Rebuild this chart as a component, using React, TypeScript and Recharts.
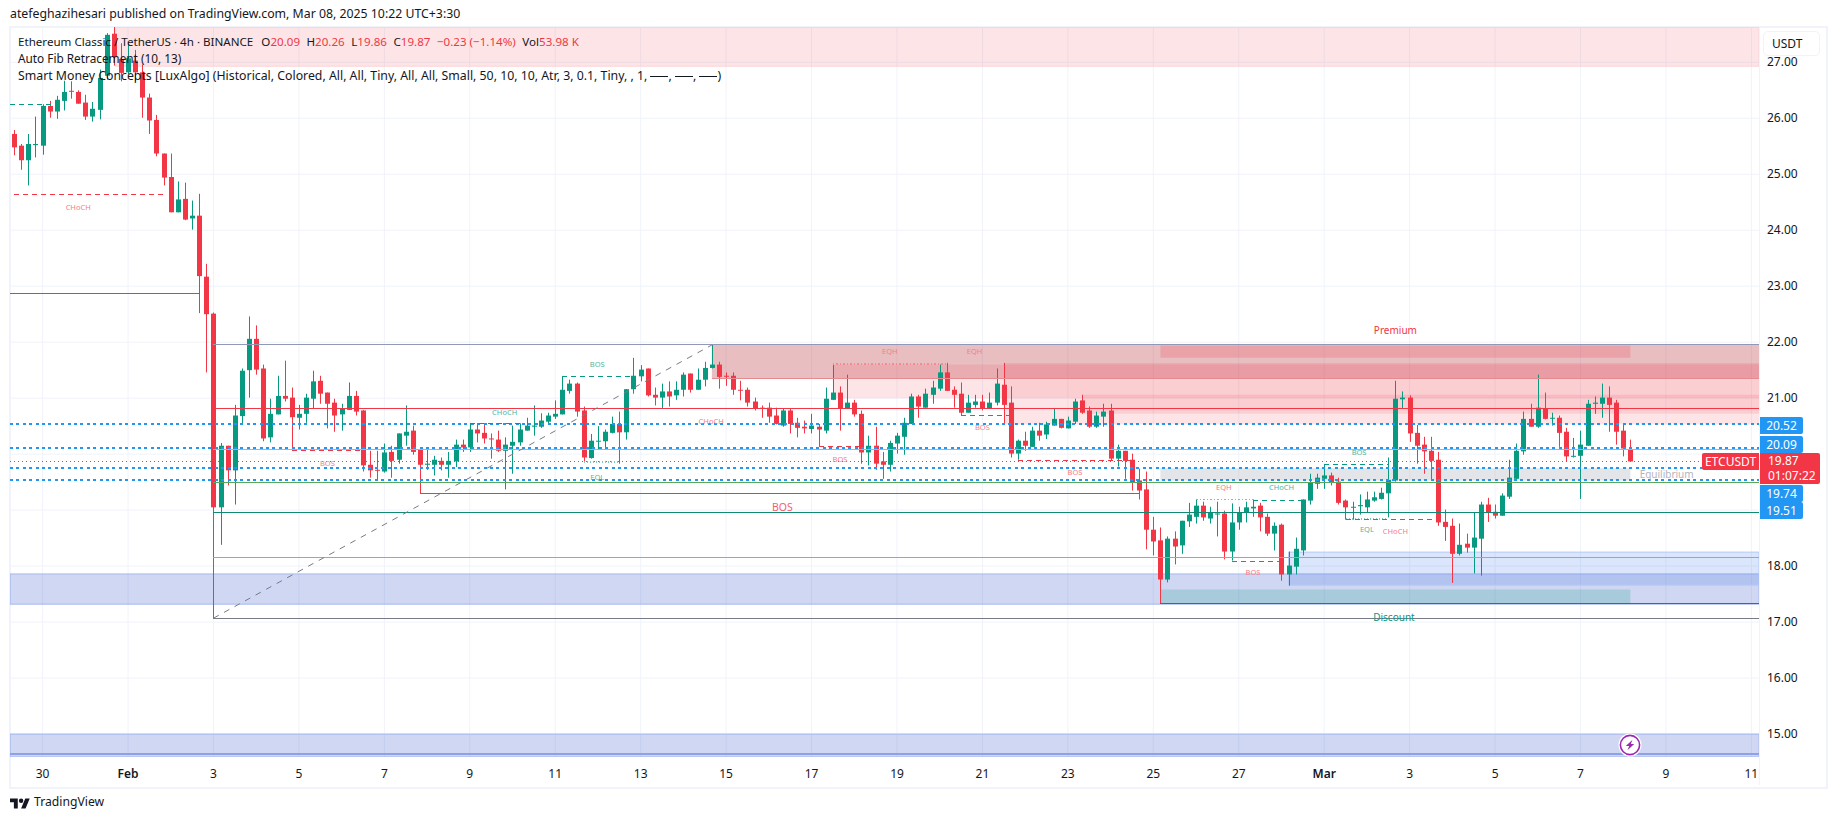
import React from 'react';
import {
  ComposedChart,
  Bar,
  XAxis,
  YAxis,
  CartesianGrid,
  ReferenceArea,
  ReferenceLine,
  ReferenceDot,
} from 'recharts';

// 4h candles, first one sits 4 bars before the Jan 30 gridline
const FIRST_INDEX = -4;

const opens = [
  25.72, 25.51, 25.25, 25.52,
  25.51, 26.22, 26.12, 26.31, 26.49, 26.47, 26.28, 26.03, 26.15, 26.76,
  27.51, 27.06, 26.82, 27.03, 26.82, 26.37, 25.97, 25.37, 24.95, 24.32,
  24.56, 24.21, 24.26, 23.17, 22.51, 19.05, 20.15, 19.71, 20.68, 21.50,
  22.06, 21.53, 20.30, 20.71, 21.04, 21.01, 20.65, 20.72, 20.99, 21.31,
  21.10, 20.92, 20.71, 20.79, 21.04, 20.78, 19.81, 19.72, 19.69, 20.04,
  19.90, 20.33, 20.42, 20.08, 19.81, 19.81, 19.88, 19.81, 19.87, 20.17,
  20.12, 20.44, 20.38, 20.28, 20.26, 20.06, 20.15, 20.21, 20.42, 20.49,
  20.49, 20.58, 20.67, 20.71, 21.13, 21.26, 20.78, 19.93, 20.23, 20.23,
  20.38, 20.54, 20.39, 21.16, 21.39, 21.53, 21.06, 21.01, 21.12, 21.05,
  21.15, 21.44, 21.15, 21.33, 21.54, 21.60, 21.40, 21.40, 21.15, 21.15,
  20.94, 20.83, 20.83, 20.69, 20.51, 20.78, 20.56, 20.49, 20.45, 20.49,
  20.42, 20.97, 21.10, 20.81, 20.92, 20.72, 20.03, 20.15, 19.87, 19.81,
  20.19, 20.31, 20.54, 21.03, 20.83, 21.06, 21.17, 21.46, 21.15, 21.08,
  20.74, 20.88, 20.94, 20.81, 20.92, 21.24, 20.92, 20.01, 20.24, 20.13,
  20.42, 20.35, 20.51, 20.63, 20.46, 20.58, 20.96, 20.78, 20.49, 20.67,
  20.78, 19.92, 20.06, 19.90, 19.53, 19.37, 18.65, 18.46, 17.76, 18.49,
  18.37, 18.80, 18.88, 19.08, 18.85, 18.93, 18.94, 18.26, 18.78, 18.96,
  19.03, 19.08, 18.88, 18.58, 18.74, 17.85, 17.99, 18.28, 19.17, 19.47,
  19.56, 19.62, 19.51, 19.17, 19.05, 19.07, 19.05, 19.17, 19.20, 19.30,
  19.53, 20.98, 21.01, 20.38, 20.17, 20.06, 19.90, 18.79, 18.72, 18.22,
  18.40, 18.33, 18.49, 19.10, 18.97, 18.90, 19.24, 19.56, 20.05, 20.63,
  20.49, 20.81, 20.64, 20.65, 20.40, 19.96, 19.97, 20.15, 20.90, 20.90,
  21.01, 20.92, 20.42, 20.09,
];

const highs = [
  25.79, 25.54, 25.72, 26.03,
  26.25, 26.31, 26.40, 26.67, 26.66, 26.50, 26.42, 26.29, 26.87, 27.52,
  27.63, 27.34, 27.34, 27.22, 26.96, 26.44, 26.06, 25.37, 25.37, 24.87,
  24.85, 24.53, 24.65, 23.40, 22.53, 20.20, 20.15, 20.88, 21.53, 22.46,
  22.30, 21.60, 20.99, 21.40, 21.67, 21.19, 20.88, 21.08, 21.49, 21.40,
  21.10, 20.99, 20.90, 21.28, 21.13, 20.79, 20.06, 20.06, 20.19, 20.15,
  20.37, 20.87, 20.51, 20.08, 20.08, 19.97, 19.94, 20.04, 20.26, 20.26,
  20.55, 20.53, 20.53, 20.37, 20.42, 20.30, 20.51, 20.55, 20.65, 20.87,
  20.73, 20.74, 20.96, 21.38, 21.33, 21.28, 20.85, 20.36, 20.50, 20.44,
  20.67, 20.76, 21.16, 21.72, 21.59, 21.53, 21.19, 21.26, 21.30, 21.30,
  21.46, 21.44, 21.53, 21.65, 21.95, 21.65, 21.46, 21.46, 21.31, 21.19,
  21.01, 20.87, 20.92, 20.83, 20.81, 20.81, 20.65, 20.60, 20.72, 20.54,
  21.19, 21.60, 21.21, 21.42, 20.97, 20.78, 20.33, 20.49, 20.04, 20.24,
  20.38, 20.65, 21.08, 21.06, 21.17, 21.31, 21.60, 21.63, 21.21, 21.28,
  21.06, 21.06, 21.06, 21.10, 21.53, 21.63, 21.21, 20.26, 20.40, 20.49,
  20.56, 20.58, 20.81, 20.63, 20.67, 20.99, 21.06, 20.85, 20.76, 20.90,
  20.90, 20.17, 20.06, 20.01, 19.74, 19.69, 18.88, 18.69, 18.53, 18.62,
  18.81, 19.13, 19.20, 19.15, 19.06, 19.15, 18.99, 19.12, 19.06, 19.15,
  19.19, 19.13, 18.94, 18.78, 18.76, 18.26, 18.51, 19.19, 19.65, 19.65,
  19.81, 19.67, 19.58, 19.19, 19.15, 19.28, 19.33, 19.33, 19.40, 19.94,
  21.31, 21.12, 21.05, 20.52, 20.31, 20.31, 20.04, 19.01, 18.85, 18.76,
  18.58, 18.95, 19.15, 19.22, 19.10, 19.30, 19.90, 20.19, 20.76, 20.90,
  21.42, 21.10, 20.74, 20.69, 20.47, 20.29, 20.42, 20.97, 21.03, 21.26,
  21.21, 20.97, 20.54, 20.26,
];

const lows = [
  25.34, 25.08, 24.80, 25.30,
  25.35, 26.01, 25.99, 26.14, 26.35, 26.26, 25.97, 25.94, 25.98, 26.69,
  26.94, 26.66, 26.79, 26.66, 26.01, 25.72, 25.32, 24.80, 24.32, 24.32,
  24.18, 24.01, 22.52, 21.46, 17.07, 18.38, 19.44, 19.10, 20.53, 21.01,
  21.42, 20.23, 20.21, 20.71, 20.94, 20.06, 20.44, 20.56, 20.81, 20.90,
  20.46, 20.40, 20.42, 20.79, 20.69, 19.69, 19.58, 19.53, 19.67, 19.58,
  19.83, 20.15, 19.99, 19.29, 19.72, 19.62, 19.71, 19.58, 19.77, 20.04,
  20.04, 20.21, 20.19, 19.92, 20.04, 19.37, 19.65, 20.15, 20.42, 20.33,
  20.47, 20.54, 20.63, 20.71, 21.08, 20.67, 19.87, 19.92, 20.08, 20.11,
  20.37, 19.83, 20.26, 21.08, 21.30, 21.03, 20.87, 20.81, 20.85, 20.97,
  21.03, 21.10, 21.15, 21.21, 21.53, 21.17, 21.22, 21.06, 20.96, 20.85,
  20.78, 20.65, 20.56, 20.53, 20.49, 20.37, 20.30, 20.37, 20.37, 20.13,
  20.37, 20.97, 20.42, 20.81, 20.67, 19.83, 19.80, 19.72, 19.56, 19.69,
  20.01, 19.99, 20.54, 20.65, 20.83, 20.90, 21.13, 21.13, 20.83, 20.69,
  20.74, 20.83, 20.78, 20.81, 20.87, 20.53, 19.94, 19.90, 20.06, 20.13,
  20.24, 20.27, 20.51, 20.46, 20.46, 20.54, 20.72, 20.47, 20.47, 20.49,
  19.88, 19.78, 19.56, 19.35, 19.19, 18.30, 18.19, 17.34, 17.71, 18.03,
  18.22, 18.70, 18.76, 18.81, 18.76, 18.53, 18.12, 18.10, 18.65, 18.78,
  18.88, 18.62, 18.54, 18.28, 17.74, 17.65, 17.85, 18.19, 19.10, 19.38,
  19.38, 19.44, 19.10, 18.83, 18.83, 18.92, 18.95, 19.15, 19.19, 18.87,
  19.51, 20.81, 20.22, 19.83, 19.65, 19.54, 18.72, 18.45, 17.70, 18.19,
  18.24, 17.87, 17.83, 18.79, 18.85, 18.90, 19.20, 19.54, 19.99, 20.49,
  20.47, 20.62, 20.51, 20.13, 19.87, 19.94, 19.20, 20.15, 20.72, 20.65,
  20.40, 20.17, 19.96, 19.86,
];

const closes = [
  25.48, 25.25, 25.54, 25.54,
  26.22, 26.12, 26.33, 26.47, 26.48, 26.26, 26.03, 26.17, 26.72, 27.49,
  27.10, 26.81, 27.07, 26.82, 26.37, 25.96, 25.37, 24.94, 24.32, 24.55,
  24.19, 24.26, 23.18, 22.50, 19.05, 20.15, 19.71, 20.69, 21.49, 22.06,
  21.51, 20.28, 20.72, 21.04, 20.99, 20.66, 20.72, 21.01, 21.30, 21.08,
  20.90, 20.69, 20.81, 21.04, 20.76, 19.80, 19.71, 19.71, 20.03, 19.88,
  20.37, 20.40, 20.04, 19.81, 19.83, 19.90, 19.81, 19.88, 20.17, 20.12,
  20.44, 20.37, 20.28, 20.27, 20.06, 20.17, 20.22, 20.44, 20.51, 20.51,
  20.60, 20.69, 20.72, 21.15, 21.26, 20.76, 19.94, 20.24, 20.24, 20.40,
  20.54, 20.39, 21.16, 21.40, 21.51, 21.05, 21.01, 21.12, 21.03, 21.15,
  21.42, 21.15, 21.33, 21.54, 21.60, 21.38, 21.39, 21.15, 21.14, 20.92,
  20.81, 20.82, 20.67, 20.54, 20.78, 20.54, 20.47, 20.46, 20.51, 20.44,
  20.99, 21.10, 20.81, 20.92, 20.71, 20.03, 20.15, 19.83, 19.81, 20.20,
  20.33, 20.56, 21.03, 20.85, 21.08, 21.19, 21.46, 21.13, 21.06, 20.74,
  20.92, 20.94, 20.81, 20.92, 21.26, 20.88, 20.01, 20.24, 20.15, 20.42,
  20.33, 20.53, 20.63, 20.47, 20.60, 20.94, 20.74, 20.49, 20.69, 20.76,
  19.92, 20.06, 19.88, 19.49, 19.35, 18.65, 18.44, 17.76, 18.49, 18.35,
  18.81, 18.92, 19.08, 18.87, 18.96, 18.94, 18.26, 18.78, 18.96, 19.05,
  19.06, 18.87, 18.58, 18.72, 17.85, 18.01, 18.31, 19.19, 19.49, 19.58,
  19.62, 19.49, 19.13, 19.05, 19.06, 19.09, 19.19, 19.23, 19.31, 19.54,
  20.99, 21.01, 20.37, 20.15, 20.05, 19.88, 18.78, 18.70, 18.22, 18.38,
  18.33, 18.51, 19.10, 18.96, 18.90, 19.26, 19.58, 20.06, 20.63, 20.49,
  20.83, 20.63, 20.65, 20.38, 19.96, 19.97, 20.17, 20.90, 20.92, 21.01,
  20.88, 20.40, 20.10, 19.87,
];

const priceTicks = [15, 16, 17, 18, 19, 20, 21, 22, 23, 24, 25, 26, 27];
// gridlines stay, but the price badges sit where these two labels would be
const coveredPriceLabels = [19, 20];
const timeTicks = [0, 12, 24, 36, 48, 60, 72, 84, 96, 108, 120, 132, 144, 156, 168, 180, 192, 204, 216, 228, 240];
const timeLabels = ['30', 'Feb', '3', '5', '7', '9', '11', '13', '15', '17', '19', '21', '23', '25', '27', 'Mar', '3', '5', '7', '9', '11'];

// visible range of the chart, in candle index and in price
const X_MIN = -4.58;
const X_MAX = 241.07;
const Y_MIN = 14.59;
const Y_MAX = 27.63;
const LAST_INDEX = 223;

// order blocks, premium/discount boxes: [from, to, top, bottom, kind]
const zones: [number, number, number, number, string][] = [
  [10.2, X_MAX, Y_MAX, 26.93, 'topSupply'],
  [X_MIN, X_MAX, 17.86, 17.32, 'demand'],
  [175, X_MAX, 18.25, 17.66, 'demandLight'],
  [X_MIN, X_MAX, 15.0, Y_MIN, 'demand'],
  [94, X_MAX, 21.95, 21.35, 'fibSupply'],
  [111, X_MAX, 21.6, 21.0, 'supply'],
  [135, X_MAX, 21.63, 20.53, 'supply'],
  [146, X_MAX, 21.06, 20.72, 'supply'],
  [157, LAST_INDEX, 21.94, 21.72, 'premium'],
  [157, LAST_INDEX, 19.75, 19.53, 'equilibrium'],
  [157, LAST_INDEX, 17.58, 17.34, 'discount'],
];

// long horizontal levels: [from, to, price, kind]
const levels: [number, number, number, string][] = [
  [X_MIN, 22, 22.87, 'red'],
  [24, X_MAX, 20.81, 'red'],
  [24, X_MAX, 21.95, 'slate'],
  [94, X_MAX, 21.35, 'fibEdge'],
  [24, X_MAX, 18.95, 'teal'],
  [24, X_MAX, 18.15, 'sky'],
  [24, X_MAX, 20.075, 'lightGreen'],
  [24, X_MAX, 19.5, 'green'],
  [157, X_MAX, 17.33, 'discountEdge'],
  [24, X_MAX, 17.07, 'gray'],
  [53, 154, 19.29, 'red'],
  [X_MIN, X_MAX, 14.65, 'demandEdge'],
  [X_MIN, X_MAX, 20.53, 'blueDots'],
  [X_MIN, X_MAX, 20.11, 'blueDots'],
  [X_MIN, X_MAX, 19.76, 'blueDots'],
  [X_MIN, X_MAX, 19.53, 'blueDots'],
  [X_MIN, X_MAX - 0.4, 19.87, 'lastPrice'],
];

// BOS / CHoCH / EQH / EQL structure segments: [from, to, price, kind]
const structure: [number, number, number, string][] = [
  [X_MIN, 2, 26.25, 'greenDash'],
  [-4, 17, 24.63, 'redDash'],
  [35, 45, 20.06, 'redDash'],
  [60, 67, 20.54, 'greenDash'],
  [73, 83, 21.38, 'greenDash'],
  [76, 81, 19.86, 'greenDot'],
  [109, 115, 20.13, 'redDash'],
  [129, 136, 20.69, 'redDash'],
  [137, 153, 19.89, 'redDash'],
  [111, 127, 21.61, 'redDot'],
  [162, 170, 19.19, 'redDot'],
  [170, 177, 19.18, 'greenDash'],
  [167, 174, 18.09, 'redDash'],
  [180, 189, 19.81, 'greenDash'],
  [183, 189, 18.84, 'greenDot'],
  [183, 196, 18.83, 'redDash'],
];

// labels: [text, candle index, price, kind]
const labels: [string, number, number, string][] = [
  ['CHoCH', 5, 24.41, 'redTiny'],
  ['BOS', 40, 19.85, 'redTiny'],
  ['CHoCH', 64.9, 20.76, 'greenTiny'],
  ['BOS', 77.9, 21.61, 'greenTiny'],
  ['EQL', 77.9, 19.6, 'greenTiny'],
  ['CHoCH', 93.9, 20.59, 'redTiny'],
  ['BOS', 103.9, 19.03, 'redSmall'],
  ['BOS', 112, 19.92, 'redTiny'],
  ['EQH', 119, 21.85, 'redTiny'],
  ['EQH', 130.9, 21.85, 'redTiny'],
  ['BOS', 132, 20.48, 'redTiny'],
  ['BOS', 145, 19.68, 'redTiny'],
  ['EQH', 165.9, 19.41, 'redTiny'],
  ['CHoCH', 174, 19.41, 'greenTiny'],
  ['BOS', 170, 17.89, 'redTiny'],
  ['BOS', 184.9, 20.03, 'greenTiny'],
  ['EQL', 186, 18.66, 'greenTiny'],
  ['CHoCH', 190, 18.62, 'redTiny'],
  ['Premium', 190, 22.2, 'premiumText'],
  ['Equilibrium', 228.1, 19.63, 'equilibriumText'],
  ['Discount', 189.8, 17.07, 'discountText'],
];

const axisBadges = ['20.52', '20.09', '19.74', '19.51'];
const legendValues = ['20.09', '20.26', '19.86', '19.87'];

const UP = '#089981';
const DOWN = '#F23645';
const FONT = '"Noto Sans", "Open Sans", sans-serif';

const ZONE_STYLE: Record<string, { fill: string; fillOpacity: number; stroke?: string }> = {
  topSupply: { fill: '#F23645', fillOpacity: 0.13, stroke: '#f9d3d6' },
  demand: { fill: '#1b40c0', fillOpacity: 0.21, stroke: '#a6b8f0' },
  demandLight: { fill: '#2962e8', fillOpacity: 0.17, stroke: '#b4cbf8' },
  fibSupply: { fill: '#b22833', fillOpacity: 0.3 },
  supply: { fill: '#F23645', fillOpacity: 0.13 },
  premium: { fill: '#F23645', fillOpacity: 0.2 },
  equilibrium: { fill: '#b2b5be', fillOpacity: 0.35 },
  discount: { fill: '#089981', fillOpacity: 0.2 },
};

const LINE_STYLE: Record<string, { stroke: string; width?: number; dash?: string }> = {
  red: { stroke: '#F23645' },
  slate: { stroke: '#9298b8' },
  fibEdge: { stroke: '#e58b90' },
  teal: { stroke: '#0e8a75' },
  sky: { stroke: '#64b5f6' },
  lightGreen: { stroke: '#8fc98f' },
  green: { stroke: '#5aa85a' },
  discountEdge: { stroke: '#157f8f' },
  gray: { stroke: '#787b86' },
  demandEdge: { stroke: '#8ba1e8', width: 2 },
  blueDots: { stroke: '#2196f3', width: 2, dash: '3 3.4' },
  lastPrice: { stroke: '#F23645', dash: '1 3' },
  greenDash: { stroke: UP, dash: '5 4' },
  redDash: { stroke: DOWN, dash: '5 4' },
  greenDot: { stroke: '#7fcabd', dash: '1.5 1.5', width: 1.5 },
  redDot: { stroke: '#f58a94', dash: '1.5 2', width: 1.5 },
};

const LABEL_STYLE: Record<string, { fill: string; fontSize: number }> = {
  redTiny: { fill: '#f77c8a', fontSize: 7.5 },
  greenTiny: { fill: '#4db6a4', fontSize: 7.5 },
  redSmall: { fill: '#f4606f', fontSize: 10.5 },
  premiumText: { fill: '#F23645', fontSize: 10 },
  equilibriumText: { fill: '#b2b5be', fontSize: 10 },
  discountText: { fill: '#089981', fontSize: 10 },
};

const candles = opens.map((open, i) => ({
  index: FIRST_INDEX + i,
  open,
  high: highs[i],
  low: lows[i],
  close: closes[i],
  range: [lows[i], highs[i]],
}));

// wick + body, scaled from the [low, high] box recharts hands over
function Candle(props: any) {
  const { x, y, width, height, payload } = props;
  const top = Math.min(y, y + height);
  const span = Math.abs(height);
  const perUnit = span / (payload.high - payload.low || 1);
  const color = payload.close >= payload.open ? UP : DOWN;
  const bodyTop = top + (payload.high - Math.max(payload.open, payload.close)) * perUnit;
  const bodyHeight = Math.max(Math.abs(payload.open - payload.close) * perUnit, 1);
  const cx = Math.round(x + width / 2);
  return (
    <g>
      <rect x={cx} y={top} width={1} height={span} fill={color} />
      <rect x={cx - 2} y={bodyTop} width={5} height={bodyHeight} fill={color} />
    </g>
  );
}

function TimeTick(props: any) {
  const { x, y, payload } = props;
  const label = timeLabels[timeTicks.indexOf(payload.value)];
  const isMonth = label === 'Feb' || label === 'Mar';
  return (
    <text x={x} y={y + 13} textAnchor="middle" fontFamily={FONT} fontSize={12} fontWeight={isMonth ? 600 : 400} fill="#131722">
      {label}
    </text>
  );
}

function PriceTick(props: any) {
  const { y, payload } = props;
  if (coveredPriceLabels.includes(payload.value)) return <g />;
  return (
    <text x={1767} y={y + 4} fontFamily={FONT} fontSize={12} fill="#131722">
      {payload.value.toFixed(2)}
    </text>
  );
}

const overlayText: React.CSSProperties = { position: 'absolute', fontFamily: FONT, whiteSpace: 'pre', lineHeight: 1 };

function Badge({ text, top }: { text: string; top: number }) {
  return (
    <div style={{ ...overlayText, left: 1760, top, width: 43, height: 17, background: '#2196f3', color: '#fff', fontSize: 12, lineHeight: '17px', textAlign: 'center', borderRadius: '0 2px 2px 0' }}>
      {text}
    </div>
  );
}

function LegendValue({ head, value, gap = 6.5 }: { head: string; value: string; gap?: number }) {
  return (
    <span style={{ marginLeft: gap }}>
      {head}
      <span style={{ color: DOWN }}>{value}</span>
    </span>
  );
}

function LineSample() {
  return <span style={{ display: 'inline-block', width: 18, height: 1, background: '#131722', verticalAlign: 3 }} />;
}

export default function App() {
  return (
    <div style={{ position: 'absolute', left: 0, top: 0, width: 1835, height: 821, background: '#fff', overflow: 'hidden' }}>
      <div style={{ position: 'absolute', left: 9, top: 26, width: 1815, height: 759, border: '2px solid #f0f3fa' }} />
      <div style={{ position: 'absolute', left: 1759, top: 27, width: 1, height: 758, background: '#f0f3fa' }} />

      <ComposedChart
        width={1835}
        height={821}
        data={candles}
        margin={{ top: 27, left: 10, right: 10, bottom: 35 }}
        style={{ position: 'absolute', left: 0, top: 0 }}
      >
        <CartesianGrid stroke="#f0f3fa" syncWithTicks />
        <XAxis
          dataKey="index"
          type="number"
          domain={[X_MIN, X_MAX]}
          allowDataOverflow
          ticks={timeTicks}
          interval={0}
          axisLine={false}
          tickLine={false}
          height={29}
          tick={<TimeTick />}
        />
        <YAxis
          orientation="right"
          type="number"
          domain={[Y_MIN, Y_MAX]}
          allowDataOverflow
          ticks={priceTicks}
          interval={0}
          axisLine={false}
          tickLine={false}
          width={66}
          tick={<PriceTick />}
        />
        {zones.map(([x1, x2, y1, y2, kind], i) => (
          <ReferenceArea
            key={`zone-${i}`}
            x1={x1}
            x2={x2}
            y1={y1}
            y2={y2}
            ifOverflow="hidden"
            fill={ZONE_STYLE[kind].fill}
            fillOpacity={ZONE_STYLE[kind].fillOpacity}
            stroke={ZONE_STYLE[kind].stroke || 'none'}
          />
        ))}
        {[...levels, ...structure].map(([from, to, price, kind], i) => (
          <ReferenceLine
            key={`line-${i}`}
            segment={[{ x: from, y: price }, { x: to, y: price }]}
            ifOverflow="hidden"
            stroke={LINE_STYLE[kind].stroke}
            strokeWidth={LINE_STYLE[kind].width || 1}
            strokeDasharray={LINE_STYLE[kind].dash}
            shapeRendering="crispEdges"
          />
        ))}
        {/* fib anchor from the Feb 3 low to the Feb 14 high */}
        <ReferenceLine
          segment={[{ x: 24, y: 17.07 }, { x: 94, y: 21.95 }]}
          ifOverflow="hidden"
          stroke="#787b86"
          strokeDasharray="6 6"
        />
        <Bar dataKey="range" barSize={5} shape={<Candle />} isAnimationActive={false} />
        {labels.map(([text, x, y, kind], i) => (
          <ReferenceDot
            key={`label-${i}`}
            x={x}
            y={y}
            r={0}
            ifOverflow="visible"
            shape={(p: any) => (
              <text x={p.cx} y={p.cy + 3} textAnchor="middle" fontFamily={FONT} fontSize={LABEL_STYLE[kind].fontSize} fill={LABEL_STYLE[kind].fill}>
                {text}
              </text>
            )}
          />
        ))}
      </ComposedChart>

      <div style={{ ...overlayText, left: 10, top: 8, fontSize: 12.3, color: '#131722' }}>
        atefeghazihesari published on TradingView.com, Mar 08, 2025 10:22 UTC+3:30
      </div>

      <div style={{ ...overlayText, left: 18, top: 36, fontSize: 11.6, color: '#131722' }}>
        Ethereum Classic / TetherUS · 4h · BINANCE
        <LegendValue head="O" value={legendValues[0]} gap={8} />
        <LegendValue head="H" value={legendValues[1]} />
        <LegendValue head="L" value={legendValues[2]} />
        <LegendValue head="C" value={legendValues[3]} />
        <span style={{ color: DOWN, marginLeft: 6.5 }}>−0.23 (−1.14%)</span>
        <LegendValue head="Vol" value="53.98 K" />
      </div>
      <div style={{ ...overlayText, left: 18, top: 53, fontSize: 11.8, color: '#131722' }}>Auto Fib Retracement (10, 13)</div>
      <div style={{ ...overlayText, left: 18, top: 70, fontSize: 12.3, color: '#131722' }}>
        Smart Money Concepts [LuxAlgo] (Historical, Colored, All, All, Tiny, All, All, Small, 50, 10, 10, Atr, 3, 0.1, Tiny, , 1, <LineSample />, <LineSample />, <LineSample />)
      </div>

      <div style={{ ...overlayText, left: 1763, top: 31, width: 57, height: 25, boxSizing: 'border-box', background: '#fff', border: '1px solid #f0f3fa', borderRadius: 5, fontSize: 12, lineHeight: '23px', paddingLeft: 8, color: '#131722' }}>
        USDT
      </div>

      <Badge text={axisBadges[0]} top={417} />
      <Badge text={axisBadges[1]} top={436} />
      <Badge text={axisBadges[2]} top={485} />
      <Badge text={axisBadges[3]} top={502} />
      <div style={{ ...overlayText, left: 1702, top: 453, width: 57, height: 17, background: DOWN, color: '#fff', fontSize: 12, lineHeight: '17px', textAlign: 'center', borderRadius: '2px 0 0 2px' }}>
        ETCUSDT
      </div>
      <div style={{ ...overlayText, left: 1760, top: 453, width: 60, height: 31, background: DOWN, color: '#fff', fontSize: 12, lineHeight: '15px', paddingLeft: 8, boxSizing: 'border-box', borderRadius: '0 2px 2px 0' }}>
        <div>19.87</div>
        <div>01:07:22</div>
      </div>

      <svg style={{ position: 'absolute', left: 1618, top: 733 }} width={24} height={24} viewBox="0 0 24 24">
        <circle cx={12} cy={12} r={11.5} fill="#fff" />
        <circle cx={12} cy={12} r={9.6} fill="#fff" stroke="#9c27b0" strokeWidth={1.6} />
        <path d="M14.5 6.8 7.8 13h3.4l-1.7 4.2 6.7-6.2h-3.4z" fill="#9c27b0" />
      </svg>

      <svg style={{ position: 'absolute', left: 10, top: 796 }} width={20} height={16} viewBox="0 0 36 28">
        <path d="M14 22H7V11H0V4h14v18zM28 22h-8l7.5-18h8L28 22z" fill="#131722" />
        <circle cx={20} cy={8} r={4} fill="#131722" />
      </svg>
      <div style={{ ...overlayText, left: 34, top: 796, fontSize: 12.2, color: '#131722' }}>TradingView</div>
    </div>
  );
}
